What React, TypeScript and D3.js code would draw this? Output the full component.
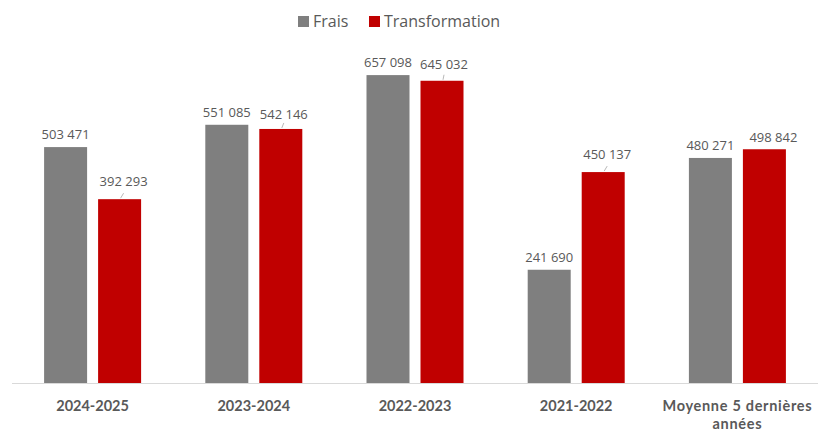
import React from "react";
import * as d3 from "d3";

const categories: string[][] = [
  ["2024-2025"],
  ["2023-2024"],
  ["2022-2023"],
  ["2021-2022"],
  ["Moyenne 5 dernières", "années"],
];
const seriesNames = ["Frais", "Transformation"];
const frais = [503471, 551085, 657098, 241690, 480271];
const transformation = [392293, 542146, 645032, 450137, 498842];

const COLORS = ["#7f7f7f", "#c00000"];
const TEXT = "#595959";
const FONT = "'Open Sans', 'Noto Sans', sans-serif";
const CAT_FONT = "Lato, 'Open Sans', sans-serif";
// label offsets for red data labels (dx, dy above bar top, leader line?)
const redLabelStyle = [
  { dx: 4, dy: 13, leader: true },
  { dx: 3, dy: 10, leader: true },
  { dx: 2, dy: 12, leader: true },
  { dx: 4, dy: 13, leader: true },
  { dx: 9, dy: 7, leader: false },
];
const catLetterSpacing = [0, 0, 0, 0, 0.7];

const W = 818;
const H = 433;
const fmt = (v: number) => d3.format(",")(v).replace(/,/g, " ");

export default function App() {
  const x = d3
    .scaleBand<number>()
    .domain(d3.range(categories.length))
    .range([12, 818]);
  const y = d3.scaleLinear().domain([0, 700000]).range([383, 55]);
  const barW = 43;
  const gap = 11;
  const series = [frais, transformation];

  return (
    <svg
      width={W}
      height={H}
      style={{ position: "absolute", left: 0, top: 0, background: "#fff" }}
      fontFamily={FONT}
    >
      {/* legend */}
      <g>
        <rect x={298} y={16} width={11} height={11} fill={COLORS[0]} />
        <text x={313} y={26.5} fontSize={16} fill={TEXT}>
          {seriesNames[0]}
        </text>
        <rect x={369} y={16} width={11} height={11} fill={COLORS[1]} />
        <text x={384} y={26.5} fontSize={16} fill={TEXT}>
          {seriesNames[1]}
        </text>
      </g>
      {/* bars */}
      {series.map((vals, si) =>
        vals.map((v, i) => {
          const cx = x(i)! + x.bandwidth() / 2;
          const bx = si === 0 ? cx - gap / 2 - barW : cx + gap / 2;
          return (
            <rect
              key={`b${si}-${i}`}
              x={bx}
              y={y(v)}
              width={barW}
              height={y(0) - y(v)}
              fill={COLORS[si]}
            />
          );
        })
      )}
      {/* axis */}
      <line x1={12} x2={818} y1={383.5} y2={383.5} stroke="#d9d9d9" strokeWidth={1} />
      {/* data labels */}
      {series.map((vals, si) =>
        vals.map((v, i) => {
          const cx = x(i)! + x.bandwidth() / 2;
          const bcx = si === 0 ? cx - gap / 2 - barW / 2 : cx + gap / 2 + barW / 2;
          const top = y(v);
          if (si === 0) {
            return (
              <text
                key={`l${si}-${i}`}
                x={bcx}
                y={top - 8}
                fontSize={13}
                fill={TEXT}
                textAnchor="middle"
              >
                {fmt(v)}
              </text>
            );
          }
          const st = redLabelStyle[i];
          return (
            <g key={`l${si}-${i}`}>
              {st.leader && (
                <line
                  x1={bcx + 1}
                  y1={top - 1}
                  x2={bcx + st.dx}
                  y2={top - 6}
                  stroke="#a6a6a6"
                  strokeWidth={0.8}
                />
              )}
              <text
                x={bcx + st.dx}
                y={top - st.dy}
                fontSize={13}
                fill={TEXT}
                textAnchor="middle"
              >
                {fmt(v)}
              </text>
            </g>
          );
        })
      )}
      {/* category labels */}
      {categories.map((lines, i) => {
        const cx = x(i)! + x.bandwidth() / 2;
        return (
          <text
            key={`c${i}`}
            x={cx}
            y={411}
            fontSize={14.5}
            fontFamily={CAT_FONT}
            fontWeight="bold"
            fill={TEXT}
            textAnchor="middle"
            letterSpacing={catLetterSpacing[i]}
          >
            {lines.map((t, j) => (
              <tspan key={j} x={cx} dy={j === 0 ? 0 : 18}>
                {t}
              </tspan>
            ))}
          </text>
        );
      })}
    </svg>
  );
}
